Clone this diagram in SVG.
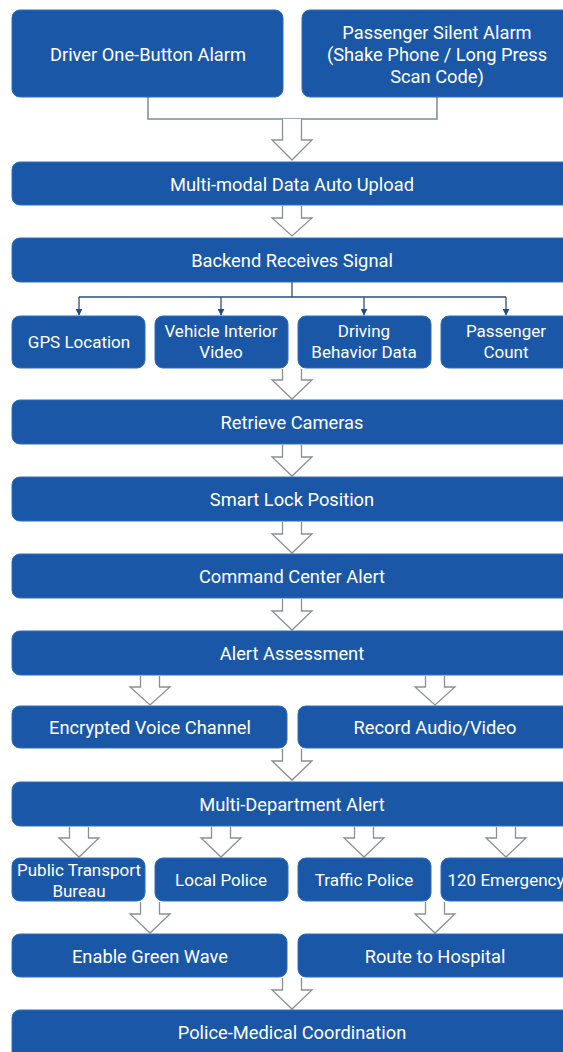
<svg xmlns="http://www.w3.org/2000/svg" width="563" height="1052" viewBox="0 0 563 1052">
<style>
.n{fill:#1a58a7;stroke:#2f6dbd;stroke-width:1}
.t{fill:#fff;font-family:Roboto,"Liberation Sans",sans-serif;font-size:18.3px;text-anchor:middle;dominant-baseline:central}
.s{font-size:17px}
.h{fill:#fff;stroke:#8a8f96;stroke-width:1.3;stroke-linejoin:miter}
.c{fill:none;stroke:#7d8b9c;stroke-width:1.5}
.b{fill:none;stroke:#2b4f7e;stroke-width:1.3}
</style>
<defs>
<marker id="ah" viewBox="0 0 10 10" refX="9" refY="5" markerWidth="7" markerHeight="7" orient="auto" markerUnits="userSpaceOnUse">
<path d="M0,0 L10,5 L0,10 Z" fill="#1f4f86"/>
</marker>
</defs>
<rect width="563" height="1052" fill="#fff"/>
<g id="connectors">
<path class="c" d="M148,97 V119 H437 V97"/>
<path class="h" d="M282.5,119 V140 H272 L292,160 L312,140 H301.5 V119"/>
<path class="h" d="M282.5,206 V218 H272 L292,236 L312,218 H301.5 V206"/>
<path class="b" d="M292,282 V297 M79,297 H506"/>
<path class="b" marker-end="url(#ah)" d="M79,297 V315"/>
<path class="b" marker-end="url(#ah)" d="M221,297 V315"/>
<path class="b" marker-end="url(#ah)" d="M364,297 V315"/>
<path class="b" marker-end="url(#ah)" d="M506,297 V315"/>
<path class="h" d="M282.5,369 V380 H272 L292,399 L312,380 H301.5 V369"/>
<path class="h" d="M282.5,445 V457 H272 L292,476 L312,457 H301.5 V445"/>
<path class="h" d="M282.5,522 V534 H272 L292,553 L312,534 H301.5 V522"/>
<path class="h" d="M282.5,599 V611 H272 L292,630 L312,611 H301.5 V599"/>
<path class="h" d="M140.5,676 V687 H130 L150,705 L170,687 H159.5 V676"/>
<path class="h" d="M425.5,676 V687 H415 L435,705 L455,687 H444.5 V676"/>
<path class="h" d="M282.5,749 V761 H272 L292,780 L312,761 H301.5 V749"/>
<path class="h" d="M69.5,827 V838 H59 L79,857 L99,838 H88.5 V827"/>
<path class="h" d="M211.5,827 V838 H201 L221,857 L241,838 H230.5 V827"/>
<path class="h" d="M354.5,827 V838 H344 L364,857 L384,838 H373.5 V827"/>
<path class="h" d="M496.5,827 V838 H486 L506,857 L526,838 H515.5 V827"/>
<path class="h" d="M140.5,902 V914 H130 L150,933 L170,914 H159.5 V902"/>
<path class="h" d="M425.5,902 V914 H415 L435,933 L455,914 H444.5 V902"/>
<path class="h" d="M282.5,978 V990 H272 L292,1009 L312,990 H301.5 V978"/>
</g>
<g id="n1"><rect class="n" x="12" y="10" width="271" height="87" rx="8"/><text class="t" x="148" y="54">Driver One-Button Alarm</text></g>
<g id="n2"><rect class="n" x="302" y="10" width="270" height="87" rx="8"/><text class="t" x="437" y="32">Passenger Silent Alarm</text><text class="t" x="437" y="54">(Shake Phone / Long Press</text><text class="t" x="437" y="76">Scan Code)</text></g>
<g id="n3"><rect class="n" x="12" y="162" width="560" height="43" rx="8"/><text class="t" x="292" y="184">Multi-modal Data Auto Upload</text></g>
<g id="n4"><rect class="n" x="12" y="238" width="560" height="44" rx="8"/><text class="t" x="292" y="260">Backend Receives Signal</text></g>
<g id="n5"><rect class="n" x="12" y="316" width="133" height="52" rx="8"/><text class="t s" x="79" y="342">GPS Location</text></g>
<g id="n6"><rect class="n" x="155" y="316" width="133" height="52" rx="8"/><text class="t s" x="221" y="331">Vehicle Interior</text><text class="t s" x="221" y="352">Video</text></g>
<g id="n7"><rect class="n" x="298" y="316" width="133" height="52" rx="8"/><text class="t s" x="364" y="331">Driving</text><text class="t s" x="364" y="352">Behavior Data</text></g>
<g id="n8"><rect class="n" x="441" y="316" width="131" height="52" rx="8"/><text class="t s" x="506" y="331">Passenger</text><text class="t s" x="506" y="352">Count</text></g>
<g id="n9"><rect class="n" x="12" y="400" width="560" height="44" rx="8"/><text class="t" x="292" y="422">Retrieve Cameras</text></g>
<g id="n10"><rect class="n" x="12" y="477" width="560" height="44" rx="8"/><text class="t" x="292" y="499">Smart Lock Position</text></g>
<g id="n11"><rect class="n" x="12" y="554" width="560" height="44" rx="8"/><text class="t" x="292" y="576">Command Center Alert</text></g>
<g id="n12"><rect class="n" x="12" y="631" width="560" height="44" rx="8"/><text class="t" x="292" y="653">Alert Assessment</text></g>
<g id="n13"><rect class="n" x="12" y="706" width="275" height="42" rx="8"/><text class="t" x="150" y="727">Encrypted Voice Channel</text></g>
<g id="n14"><rect class="n" x="298" y="706" width="274" height="42" rx="8"/><text class="t" x="435" y="727">Record Audio/Video</text></g>
<g id="n15"><rect class="n" x="12" y="782" width="560" height="44" rx="8"/><text class="t" x="292" y="804">Multi-Department Alert</text></g>
<g id="n16"><rect class="n" x="12" y="858" width="133" height="43" rx="8"/><text class="t s" x="79" y="870">Public Transport</text><text class="t s" x="79" y="891">Bureau</text></g>
<g id="n17"><rect class="n" x="155" y="858" width="133" height="43" rx="8"/><text class="t s" x="221" y="880">Local Police</text></g>
<g id="n18"><rect class="n" x="298" y="858" width="133" height="43" rx="8"/><text class="t s" x="364" y="880">Traffic Police</text></g>
<g id="n19"><rect class="n" x="441" y="858" width="131" height="43" rx="8"/><text class="t s" x="506" y="880">120 Emergency</text></g>
<g id="n20"><rect class="n" x="12" y="934" width="275" height="43" rx="8"/><text class="t" x="150" y="956">Enable Green Wave</text></g>
<g id="n21"><rect class="n" x="298" y="934" width="274" height="43" rx="8"/><text class="t" x="435" y="956">Route to Hospital</text></g>
<g id="n22"><rect class="n" x="12" y="1010" width="560" height="50" rx="8"/><text class="t" x="292" y="1032">Police-Medical Coordination</text></g>
</svg>
